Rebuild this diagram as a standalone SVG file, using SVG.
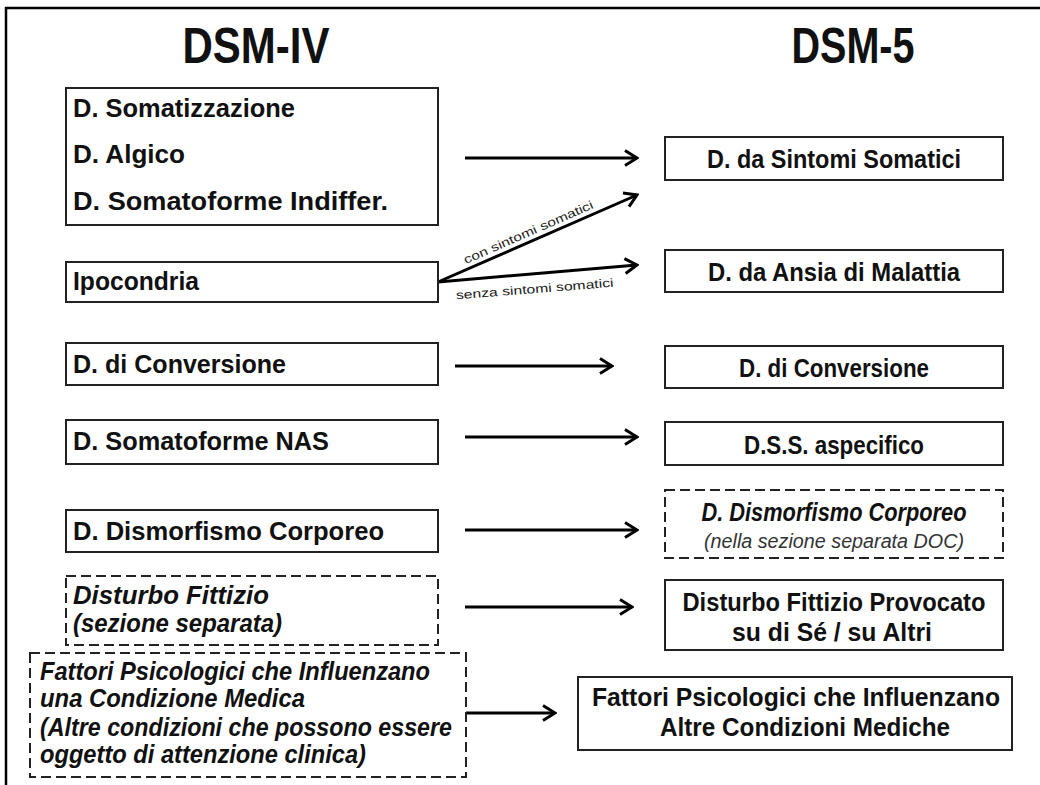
<svg xmlns="http://www.w3.org/2000/svg" width="1040" height="785" viewBox="0 0 1040 785">
<defs>
<style>
.box{fill:#fff;stroke:#222;stroke-width:2}
.dash{stroke-dasharray:10 5}
.t{font-family:"Liberation Sans",Arial,sans-serif;font-weight:bold;font-size:25px;fill:#111}
.c{text-anchor:middle}
.i{font-style:italic}
.title{font-size:50px}
.sub{font-size:20px;font-weight:normal;fill:#333}
.lbl{font-family:"Liberation Sans",Arial,sans-serif;font-size:12px;fill:#222}
.edge{stroke:#000;stroke-width:3;fill:none;marker-end:url(#ah)}
</style>
<marker id="ah" viewBox="0 0 16 18" refX="14" refY="9" markerWidth="16" markerHeight="18" markerUnits="userSpaceOnUse" orient="auto">
<path d="M2,1.5 L14,9 L2,16.5" fill="none" stroke="#000" stroke-width="3"/>
</marker>
</defs>
<rect width="1040" height="785" fill="#fff"/>
<path d="M6,785 V8 H1040" fill="none" stroke="#000" stroke-width="2.5"/>

<g id="titles">
<text class="t title c" x="256" y="63" textLength="147" lengthAdjust="spacingAndGlyphs">DSM-IV</text>
<text class="t title c" x="853" y="63" textLength="123" lengthAdjust="spacingAndGlyphs">DSM-5</text>
</g>

<g id="connectors">
<line class="edge" x1="465" y1="158" x2="637" y2="158"/>
<line class="edge" x1="438" y1="282" x2="637" y2="195"/>
<line class="edge" x1="438" y1="282" x2="637" y2="265"/>
<line class="edge" x1="455" y1="366" x2="612" y2="366"/>
<line class="edge" x1="465" y1="437" x2="637" y2="437"/>
<line class="edge" x1="465" y1="530" x2="637" y2="530"/>
<line class="edge" x1="465" y1="607" x2="632" y2="607"/>
<line class="edge" x1="466" y1="713" x2="555" y2="713"/>
<text class="lbl c" transform="translate(530,236) rotate(-23.6)" textLength="140" lengthAdjust="spacingAndGlyphs">con sintomi somatici</text>
<text class="lbl c" transform="translate(535,293) rotate(-4.6)" textLength="158" lengthAdjust="spacingAndGlyphs">senza sintomi somatici</text>
</g>

<g id="l-somatizzazione">
<rect class="box" x="66" y="88" width="372" height="137"/>
<text class="t" x="73" y="117" textLength="222" lengthAdjust="spacingAndGlyphs">D. Somatizzazione</text>
<text class="t" x="73" y="163" textLength="112" lengthAdjust="spacingAndGlyphs">D. Algico</text>
<text class="t" x="73" y="210" textLength="315" lengthAdjust="spacingAndGlyphs">D. Somatoforme Indiffer.</text>
</g>
<g id="l-ipocondria">
<rect class="box" x="66" y="262" width="372" height="40"/>
<text class="t" x="73" y="290" textLength="126" lengthAdjust="spacingAndGlyphs">Ipocondria</text>
</g>
<g id="l-conversione">
<rect class="box" x="66" y="343" width="372" height="42"/>
<text class="t" x="73" y="373" textLength="213" lengthAdjust="spacingAndGlyphs">D. di Conversione</text>
</g>
<g id="l-nas">
<rect class="box" x="66" y="420" width="372" height="44"/>
<text class="t" x="73" y="450" textLength="256" lengthAdjust="spacingAndGlyphs">D. Somatoforme NAS</text>
</g>
<g id="l-dismorfismo">
<rect class="box" x="66" y="510" width="372" height="42"/>
<text class="t" x="73" y="540" textLength="311" lengthAdjust="spacingAndGlyphs">D. Dismorfismo Corporeo</text>
</g>
<g id="l-fittizio">
<rect class="box dash" x="66" y="576" width="372" height="69"/>
<text class="t i" x="73" y="604" font-size="24" textLength="196" lengthAdjust="spacingAndGlyphs">Disturbo Fittizio</text>
<text class="t i" x="73" y="632" font-size="24" textLength="209" lengthAdjust="spacingAndGlyphs">(sezione separata)</text>
</g>
<g id="l-fattori">
<rect class="box dash" x="30" y="653" width="436" height="124"/>
<text class="t i" x="40" y="680" font-size="23" textLength="390" lengthAdjust="spacingAndGlyphs">Fattori Psicologici che Influenzano</text>
<text class="t i" x="40" y="707" font-size="23" textLength="265" lengthAdjust="spacingAndGlyphs">una Condizione Medica</text>
<text class="t i" x="40" y="736" font-size="23" textLength="412" lengthAdjust="spacingAndGlyphs">(Altre condizioni che possono essere</text>
<text class="t i" x="40" y="763" font-size="23" textLength="326" lengthAdjust="spacingAndGlyphs">oggetto di attenzione clinica)</text>
</g>

<g id="r-sss">
<rect class="box" x="665" y="137" width="338" height="43"/>
<text class="t c" x="834" y="168" textLength="254" lengthAdjust="spacingAndGlyphs">D. da Sintomi Somatici</text>
</g>
<g id="r-ansia">
<rect class="box" x="665" y="250" width="338" height="42"/>
<text class="t c" x="834" y="281" textLength="252" lengthAdjust="spacingAndGlyphs">D. da Ansia di Malattia</text>
</g>
<g id="r-conversione">
<rect class="box" x="665" y="346" width="338" height="42"/>
<text class="t c" x="834" y="377" textLength="190" lengthAdjust="spacingAndGlyphs">D. di Conversione</text>
</g>
<g id="r-aspecifico">
<rect class="box" x="665" y="422" width="338" height="43"/>
<text class="t c" x="834" y="454" textLength="180" lengthAdjust="spacingAndGlyphs">D.S.S. aspecifico</text>
</g>
<g id="r-dismorfismo">
<rect class="box dash" x="665" y="490" width="338" height="68"/>
<text class="t c i" x="834" y="521" font-size="24" textLength="265" lengthAdjust="spacingAndGlyphs">D. Dismorfismo Corporeo</text>
<text class="t c i sub" x="834" y="548" textLength="260" lengthAdjust="spacingAndGlyphs">(nella sezione separata DOC)</text>
</g>
<g id="r-fittizio">
<rect class="box" x="665" y="580" width="338" height="70"/>
<text class="t c" x="834" y="611" textLength="303" lengthAdjust="spacingAndGlyphs">Disturbo Fittizio Provocato</text>
<text class="t c" x="832" y="641" textLength="200" lengthAdjust="spacingAndGlyphs">su di Sé / su Altri</text>
</g>
<g id="r-fattori">
<rect class="box" x="578" y="677" width="434" height="73"/>
<text class="t c" x="796" y="706" textLength="408" lengthAdjust="spacingAndGlyphs">Fattori Psicologici che Influenzano</text>
<text class="t c" x="805" y="736" textLength="290" lengthAdjust="spacingAndGlyphs">Altre Condizioni Mediche</text>
</g>
</svg>
